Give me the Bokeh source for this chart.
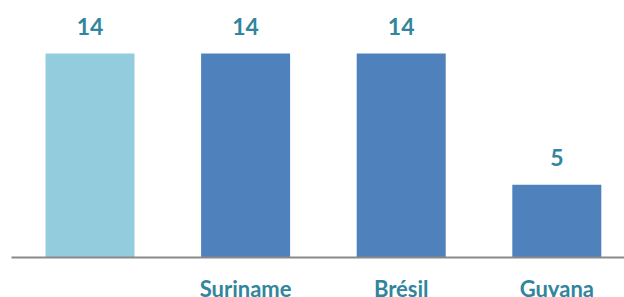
from bokeh.plotting import figure
from bokeh.models import Range1d, FixedTicker, ColumnDataSource
from bokeh.core.properties import value
from bokeh.embed import file_html
from bokeh.resources import INLINE

categories = ["", "Suriname", "Brésil", "Guyana"]
values = [14, 14, 14, 5]
bar_colors = ["#93CDDD", "#4F81BD", "#4F81BD", "#4F81BD"]
value_labels = [str(v) for v in values]

xs = list(range(len(categories)))
src = ColumnDataSource(dict(x=xs, top=values, color=bar_colors, label=value_labels,
                            cat=categories, zero=[0] * len(xs)))

p = figure(width=624, height=297, output_backend="svg", toolbar_location=None,
           x_range=Range1d(-0.5045, 3.435), y_range=Range1d(0, 17.64),
           min_border_left=11, min_border_right=0, min_border_top=0, min_border_bottom=40)
p.outline_line_color = None
p.grid.visible = False
p.background_fill_color = "white"
p.border_fill_color = "white"

p.vbar(x="x", top="top", bottom=0, width=0.572, fill_color="color", line_color=None, source=src)
p.text(x="x", y="top", text="label", source=src, y_offset=-27,
       text_align="center", text_baseline="alphabetic",
       text_font=value("Lato"), text_font_style="bold", text_font_size="23px",
       text_color="#31859C", level="overlay")
p.text(x="x", y="zero", text="cat", source=src, y_offset=31,
       text_align="center", text_baseline="alphabetic",
       text_font=value("Lato"), text_font_style="bold", text_font_size="22px",
       text_color="#31859C", level="overlay")

p.yaxis.visible = False
xa = p.xaxis[0]
xa.ticker = FixedTicker(ticks=[])
xa.axis_line_color = "#898989"
xa.axis_line_width = 2
xa.major_tick_line_color = None
xa.minor_tick_line_color = None
xa.major_tick_out = 0
xa.major_tick_in = 0
xa.major_label_text_font_size = "0px"

open("out.html", "w").write(file_html(p, INLINE))
